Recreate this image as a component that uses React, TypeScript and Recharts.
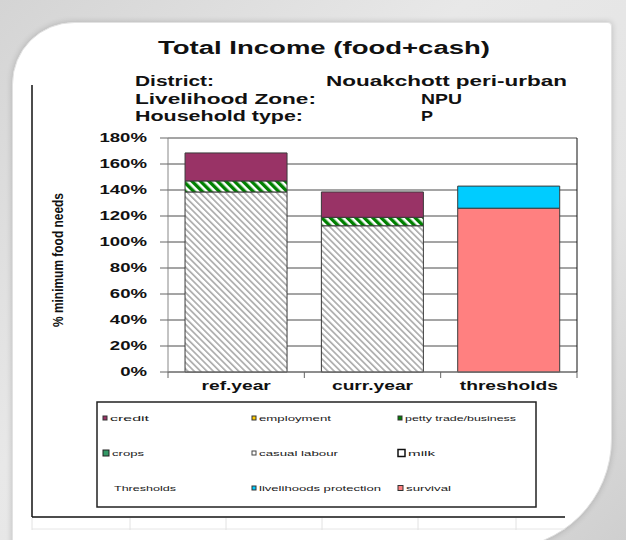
import React from 'react';
import { BarChart, Bar, XAxis, YAxis, CartesianGrid } from 'recharts';

// ---- data ----
const categories = ['ref.year', 'curr.year', 'thresholds'];
const casualLabour = [138.5, 112.5, 0];
const pettyTrade = [8.5, 6.5, 0];
const credit = [21.5, 19.5, 0];
const survival = [0, 0, 126];
const livelihoodsProtection = [0, 0, 17];
const yTicks = [0, 20, 40, 60, 80, 100, 120, 140, 160, 180];

const legendNames = [
  'credit', 'employment', 'petty trade/business',
  'crops', 'casual labour', 'milk',
  'Thresholds', 'livelihoods protection', 'survival',
];

const data = categories.map((name, i) => ({
  name,
  casualLabour: casualLabour[i],
  pettyTrade: pettyTrade[i],
  credit: credit[i],
  survival: survival[i],
  livelihoodsProtection: livelihoodsProtection[i],
}));

// ---- layout / styles ----
const W = 626;
const H = 540;
const FONT = '"Liberation Sans", Arial, sans-serif';
const PLOT_LEFT = 168;
const PLOT_RIGHT = 577;
const PLOT_TOP = 138;
const PLOT_BOTTOM = 372;
const Y_AXIS_W = 110;
const X_AXIS_H = 20;
const BAND_HALF = (PLOT_RIGHT - PLOT_LEFT) / categories.length / 2;

// marker look + stretched text widths for the legend
const LEGEND_STYLE: Record<string, { fill: string; stroke: string; size: number; textW: number }> = {
  'credit': { fill: '#993366', stroke: '#333', size: 4, textW: 39 },
  'employment': { fill: '#FFCC00', stroke: '#333', size: 4, textW: 72 },
  'petty trade/business': { fill: '#008000', stroke: '#333', size: 4, textW: 111 },
  'crops': { fill: '#339966', stroke: '#222', size: 6, textW: 32 },
  'casual labour': { fill: '#ffffff', stroke: '#444', size: 4, textW: 79 },
  'milk': { fill: '#ffffff', stroke: '#111', size: 7, textW: 27 },
  'Thresholds': { fill: 'none', stroke: 'none', size: 0, textW: 62 },
  'livelihoods protection': { fill: '#00CCFF', stroke: '#333', size: 4, textW: 122 },
  'survival': { fill: '#FF8080', stroke: '#333', size: 5, textW: 45 },
};
const LEGEND_COLS = [103, 252, 398];
const LEGEND_ROWS = [418, 453, 488];

const YTick = (props: any) => {
  const { x, y, payload } = props;
  return (
    <text
      x={0}
      y={0}
      transform={`translate(${x} ${y}) scale(1.55 1)`}
      textAnchor="end"
      dy="0.36em"
      fontSize={12}
      fontWeight="bold"
      fontFamily={FONT}
      fill="#111"
    >
      {`${payload.value}%`}
    </text>
  );
};

const XTick = (props: any) => {
  const { x, y, payload, index, visibleTicksCount } = props;
  const half = payload && payload.offset ? payload.offset : BAND_HALF;
  const y0 = y - 8;
  return (
    <g>
      <line x1={x - half} x2={x - half} y1={y0} y2={y0 + 6} stroke="#666" />
      {index === visibleTicksCount - 1 && (
        <line x1={x + half} x2={x + half} y1={y0} y2={y0 + 6} stroke="#666" />
      )}
      <text
        x={0}
        y={0}
        transform={`translate(${x} ${y}) scale(1.6 1)`}
        textAnchor="middle"
        dy="0.8em"
        fontSize={12}
        fontWeight="bold"
        fontFamily={FONT}
        fill="#111"
      >
        {payload.value}
      </text>
    </g>
  );
};

const YLabel = (props: any) => {
  const { viewBox } = props;
  const cx = viewBox.x;
  const cy = viewBox.y + viewBox.height / 2 + 5;
  return (
    <text
      x={cx}
      y={cy}
      transform={`rotate(-90 ${cx} ${cy})`}
      textAnchor="middle"
      dy="0.35em"
      fontSize={14}
      fontWeight="bold"
      fontFamily={FONT}
      fill="#111"
      textLength={134}
      lengthAdjust="spacingAndGlyphs"
    >
      % minimum food needs
    </text>
  );
};

const Decor = () => (
  <svg width={W} height={H} style={{ position: 'absolute', left: 0, top: 0 }}>
    {/* frame of the pasted chart */}
    <line x1={32} y1={85} x2={32} y2={517} stroke="#111" strokeWidth={1.5} />
    <line x1={32} y1={517} x2={565} y2={517} stroke="#111" strokeWidth={1.5} />
    <line x1={32} y1={529} x2={565} y2={529} stroke="#e6e6e6" />
    {[32, 130, 226, 322, 418, 516].map((gx) => (
      <line key={gx} x1={gx} y1={518} x2={gx} y2={530} stroke="#e2e2e2" />
    ))}

    {/* title block */}
    <g fontFamily={FONT} fontWeight="bold" fill="#111">
      <text x={158} y={54} fontSize={18} textLength={332} lengthAdjust="spacingAndGlyphs">
        Total Income (food+cash)
      </text>
      <text x={135} y={86} fontSize={14.5} textLength={79} lengthAdjust="spacingAndGlyphs">District:</text>
      <text x={135} y={104} fontSize={14.5} textLength={181} lengthAdjust="spacingAndGlyphs">Livelihood Zone:</text>
      <text x={135} y={121} fontSize={14.5} textLength={168} lengthAdjust="spacingAndGlyphs">Household type:</text>
      <text x={326} y={86} fontSize={14.5} textLength={241} lengthAdjust="spacingAndGlyphs">Nouakchott peri-urban</text>
      <text x={421} y={104} fontSize={14.5} textLength={41} lengthAdjust="spacingAndGlyphs">NPU</text>
      <text x={421} y={121} fontSize={14.5} textLength={12} lengthAdjust="spacingAndGlyphs">P</text>
    </g>

    {/* legend */}
    <rect x={97} y={402} width={439} height={105} fill="#fff" stroke="#222" strokeWidth={1.5} />
    {legendNames.map((name, i) => {
      const st = LEGEND_STYLE[name];
      const mx = LEGEND_COLS[i % 3];
      const my = LEGEND_ROWS[Math.floor(i / 3)];
      const tx = name === 'Thresholds' ? mx + 11 : mx + st.size + 3;
      return (
        <g key={name}>
          {st.size > 0 && (
            <rect
              x={mx}
              y={my - st.size / 2}
              width={st.size}
              height={st.size}
              fill={st.fill}
              stroke={st.stroke}
              strokeWidth={name === 'milk' ? 1.5 : 1}
            />
          )}
          <text
            x={tx}
            y={my}
            dy="0.35em"
            fontSize={7.5}
            fontFamily={FONT}
            fill="#1a1a1a"
            textLength={st.textW}
            lengthAdjust="spacingAndGlyphs"
          >
            {name}
          </text>
        </g>
      );
    })}
  </svg>
);

export default function App() {
  return (
    <div
      style={{
        position: 'absolute',
        left: 0,
        top: 0,
        width: W,
        height: H,
        overflow: 'hidden',
        background: 'linear-gradient(135deg, #d4d4d4 0%, #e8e8e8 40%, #e4e4e4 70%, #cfcfcf 100%)',
      }}
    >
      {/* white card */}
      <div
        style={{
          position: 'absolute',
          left: 12,
          top: 22,
          width: 598,
          height: 525,
          background: '#fff',
          border: '1px solid #e2e2e2',
          borderRadius: '62px 4px 110px 4px',
          boxShadow: '0 0 6px rgba(0,0,0,0.18)',
        }}
      />
      <Decor />
      <div style={{ position: 'absolute', left: 0, top: 0 }}>
        <BarChart
          width={W}
          height={H}
          data={data}
          barCategoryGap="12.5%"
          margin={{
            top: PLOT_TOP,
            left: PLOT_LEFT - Y_AXIS_W,
            right: W - PLOT_RIGHT - 1,
            bottom: H - PLOT_BOTTOM - X_AXIS_H,
          }}
        >
          <defs>
            <pattern id="hatchGray" patternUnits="userSpaceOnUse" width={4.5} height={4.5} patternTransform="rotate(-45)">
              <rect width={4.5} height={4.5} fill="#fff" />
              <rect width={1.6} height={4.5} fill="#a8a8a8" />
            </pattern>
            <pattern id="hatchGreen" patternUnits="userSpaceOnUse" width={6} height={6} patternTransform="rotate(-45)">
              <rect width={6} height={6} fill="#fff" />
              <rect width={3.4} height={6} fill="#008000" />
            </pattern>
          </defs>
          <CartesianGrid vertical={false} stroke="#4a4a4a" strokeWidth={1} />
          <XAxis
            dataKey="name"
            height={X_AXIS_H}
            axisLine={{ stroke: '#777' }}
            tickLine={false}
            tickSize={6}
            tickMargin={2}
            interval={0}
            tick={<XTick />}
          />
          <YAxis
            width={Y_AXIS_W}
            domain={[0, 180]}
            ticks={yTicks}
            interval={0}
            axisLine={{ stroke: '#888' }}
            tickLine={{ stroke: '#666' }}
            tickSize={8}
            tickMargin={13}
            tick={<YTick />}
            label={<YLabel />}
          />
          <YAxis
            yAxisId="frame"
            orientation="right"
            width={1}
            domain={[0, 180]}
            tick={false}
            tickLine={false}
            axisLine={{ stroke: '#111' }}
          />
          <Bar dataKey="casualLabour" stackId="a" fill="url(#hatchGray)" stroke="#3a3a3a" isAnimationActive={false} />
          <Bar dataKey="pettyTrade" stackId="a" fill="url(#hatchGreen)" stroke="#3a3a3a" isAnimationActive={false} />
          <Bar dataKey="credit" stackId="a" fill="#993366" stroke="#3a3a3a" isAnimationActive={false} />
          <Bar dataKey="survival" stackId="a" fill="#FF8080" stroke="#3a3a3a" isAnimationActive={false} />
          <Bar dataKey="livelihoodsProtection" stackId="a" fill="#00CCFF" stroke="#3a3a3a" isAnimationActive={false} />
        </BarChart>
      </div>
    </div>
  );
}
